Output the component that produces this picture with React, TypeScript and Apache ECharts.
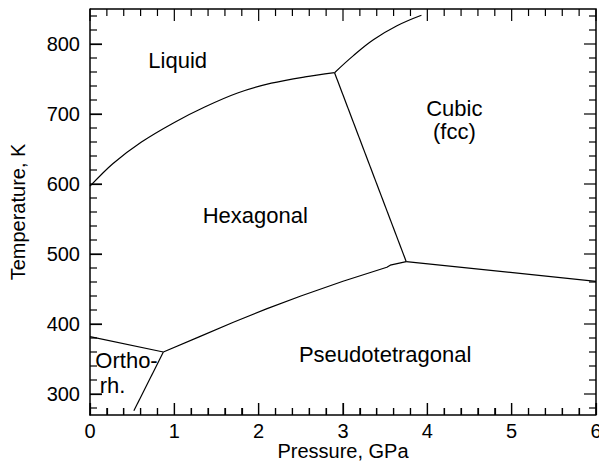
import React, { useEffect, useRef } from "react";
import * as echarts from "echarts";

// Boundary lines (pressure in GPa, temperature in K)
const liquidHexP = [0, 0.27, 0.61, 1.0, 1.36, 1.75, 2.15, 2.55, 2.9];
const liquidHexT = [597, 629, 660, 688, 710, 730, 744, 753, 759];
const liquidCubicP = [2.9, 3.12, 3.36, 3.64, 3.93];
const liquidCubicT = [759, 783, 806, 826, 841];
const hexCubicP = [2.9, 3.75];
const hexCubicT = [759, 489];
const cubicPseudoP = [3.75, 6];
const cubicPseudoT = [489, 461];
const hexPseudoP = [0.87, 1.3, 1.7, 2.1, 2.5, 3.0, 3.52, 3.56, 3.75];
const hexPseudoT = [360, 382, 402.5, 422, 440, 461, 481, 484, 489];
const orthoHexP = [0, 0.87];
const orthoHexT = [382, 360];
const orthoPseudoP = [0.87, 0.52];
const orthoPseudoT = [360, 276];

// Phase labels
const phaseNames = ["Liquid", "Cubic\n(fcc)", "Hexagonal", "Pseudotetragonal", "Ortho-", "rh."];
const phaseP = [1.04, 4.32, 1.96, 3.5, 0.433, 0.267];
const phaseT = [776, 691, 555, 357, 347.5, 312];

// Axis ticks
const pressureMajor = [0, 1, 2, 3, 4, 5, 6];
const pressureMinor = [0.2, 0.4, 0.6, 0.8, 1.2, 1.4, 1.6, 1.8, 2.2, 2.4, 2.6, 2.8, 3.2, 3.4, 3.6, 3.8, 4.2, 4.4, 4.6, 4.8, 5.2, 5.4, 5.6, 5.8];
const tempMajor = [300, 400, 500, 600, 700, 800];
const tempMinor = [280, 320, 340, 360, 380, 420, 440, 460, 480, 520, 540, 560, 580, 620, 640, 660, 680, 720, 740, 760, 780, 820, 840];

const P_MIN = 0;
const P_MAX = 6;
const T_MIN = 270;
const T_MAX = 850;

const FONT = "'Liberation Sans', Arial, Helvetica, sans-serif";
const TXT = "#000";

const zip = (a: number[], b: number[]) => a.map((v, i) => [v, b[i]]);

export default function App() {
  const ref = useRef<HTMLDivElement>(null);
  useEffect(() => {
    if (!ref.current) return;
    const chart = echarts.init(ref.current, undefined, { renderer: "svg" });
    const lineSeries = (p: number[], t: number[], smooth: number | boolean = false) => ({
      type: "line",
      data: zip(p, t),
      symbol: "none",
      smooth,
      lineStyle: { color: "#000", width: 1.2 },
    });
    try {
      chart.setOption({
        animation: false,
        grid: { left: 90, right: 3, top: 9, bottom: 57, outerBoundsMode: "none" },
        xAxis: {
          type: "value",
          min: P_MIN,
          max: P_MAX,
          interval: 1,
          position: "bottom",
          splitLine: { show: false },
          axisLine: { show: true, lineStyle: { color: "#000", width: 1.5 } },
          axisTick: { show: true, inside: true, length: 12, lineStyle: { color: "#000", width: 1.2 } },
          minorTick: { show: true, splitNumber: 5, length: 7, lineStyle: { color: "#000", width: 1.2 } },
          name: "Pressure, GPa",
          nameLocation: "middle",
          nameGap: 26,
          nameMoveOverlap: false,
          nameTextStyle: { fontFamily: FONT, fontSize: 20, color: TXT },
          axisLabel: { fontFamily: FONT, fontSize: 20, color: TXT, margin: 6, hideOverlap: false },
        },
        yAxis: {
          type: "value",
          min: T_MIN,
          max: T_MAX,
          position: "left",
          splitLine: { show: false },
          axisLine: { show: true, lineStyle: { color: "#000", width: 1.5 } },
          axisTick: { show: true, inside: true, length: 12, customValues: tempMajor, lineStyle: { color: "#000", width: 1.2 } },
          name: "Temperature, K",
          nameLocation: "middle",
          nameGap: 62,
          nameMoveOverlap: false,
          nameTextStyle: { fontFamily: FONT, fontSize: 20, color: TXT },
          axisLabel: { fontFamily: FONT, fontSize: 20, color: TXT, margin: 10, customValues: tempMajor },
        },
        series: [
          lineSeries(liquidHexP, liquidHexT, 0.3),
          lineSeries(liquidCubicP, liquidCubicT, 0.4),
          lineSeries(hexCubicP, hexCubicT),
          lineSeries(cubicPseudoP, cubicPseudoT),
          lineSeries(hexPseudoP, hexPseudoT),
          lineSeries(orthoHexP, orthoHexT),
          lineSeries(orthoPseudoP, orthoPseudoT),
        ],
      });
    } catch (e) {
      // keep going so the overlay below is still drawn
    }

    // Ticks on all four sides, frame, and phase labels, placed through the chart's own scales
    try {
      const MAJ = 12;
      const MIN = 7;
      const toPx = (x: number, y: number) =>
        chart.convertToPixel({ xAxisIndex: 0, yAxisIndex: 0 }, [x, y]) as number[];
      const elements: any[] = [];
      const addTick = (x: number, y: number, dx: number, dy: number, len: number) => {
        const p = toPx(x, y);
        if (!p) return;
        elements.push({
          type: "line",
          silent: true,
          z: 100,
          shape: { x1: p[0], y1: p[1], x2: p[0] + dx * len, y2: p[1] + dy * len },
          style: { stroke: "#000", lineWidth: 1.2 },
        });
      };
      pressureMajor.forEach((v) => { addTick(v, T_MIN, 0, -1, MAJ); addTick(v, T_MAX, 0, 1, MAJ); });
      pressureMinor.forEach((v) => { addTick(v, T_MIN, 0, -1, MIN); addTick(v, T_MAX, 0, 1, MIN); });
      tempMajor.forEach((v) => { addTick(P_MIN, v, 1, 0, MAJ); addTick(P_MAX, v, -1, 0, MAJ); });
      tempMinor.forEach((v) => { addTick(P_MIN, v, 1, 0, MIN); addTick(P_MAX, v, -1, 0, MIN); });

      // top and right frame lines
      const tl = toPx(P_MIN, T_MAX);
      const tr = toPx(P_MAX, T_MAX);
      const br = toPx(P_MAX, T_MIN);
      elements.push({
        type: "polyline",
        silent: true,
        z: 100,
        shape: { points: [tl, tr, br] },
        style: { stroke: "#000", lineWidth: 1.5, fill: "none" },
      });

      phaseNames.forEach((name, i) => {
        const p = toPx(phaseP[i], phaseT[i]);
        if (!p) return;
        elements.push({
          type: "text",
          silent: true,
          z: 100,
          x: p[0],
          y: p[1],
          style: {
            text: name,
            fontFamily: FONT,
            fontSize: 22,
            lineHeight: 23,
            fill: TXT,
            align: "center",
            verticalAlign: "middle",
          },
        });
      });
      chart.setOption({ graphic: { elements } });
    } catch (e) {
      // ignore
    }

    return () => chart.dispose();
  }, []);
  return (
    <div
      ref={ref}
      style={{ position: "fixed", left: 0, top: 0, width: 599, height: 472, background: "#fff" }}
    />
  );
}
